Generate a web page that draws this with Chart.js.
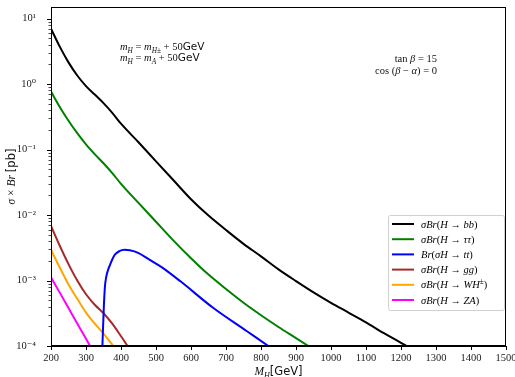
<!DOCTYPE html>
<html>
<head>
<meta charset="utf-8">
<script src="https://cdn.jsdelivr.net/npm/chart.js@4.4.1/dist/chart.umd.min.js"></script>
<style>
  html, body { margin: 0; padding: 0; background: #fff; }
  #wrap { width: 515px; height: 377px; }
</style>
</head>
<body>
<div id="wrap"><canvas id="chart"></canvas></div>
<script>
// M_H in GeV, sigma x Br in pb
const bbMass = [200, 225, 250, 275, 300, 325, 350, 375, 400, 450, 500, 550, 600, 650, 700, 750, 800, 850, 900, 950, 1000, 1050, 1100, 1150, 1200, 1240];
const bbXsec = [7.0, 3.72, 2.14, 1.35, 0.93, 0.69, 0.51, 0.363, 0.248, 0.129, 0.066, 0.0339, 0.0174, 0.0098, 0.0059, 0.00363, 0.00234, 0.00148, 0.00098, 0.00066, 0.000457, 0.000324, 0.000229, 0.000158, 0.000112, 0.000085];

const tauMass = [200, 225, 250, 275, 300, 325, 350, 375, 400, 450, 500, 550, 600, 650, 700, 750, 800, 850, 900, 950];
const tauXsec = [0.77, 0.447, 0.275, 0.178, 0.120, 0.085, 0.0617, 0.0437, 0.0299, 0.0153, 0.0079, 0.00407, 0.00219, 0.00123, 0.00074, 0.000457, 0.000295, 0.000195, 0.000132, 0.000089];

const ttMass = [345, 348, 351, 354, 358, 363, 369, 376, 383, 395, 410, 425, 449, 480, 516, 569, 664, 760, 821, 840];
const ttXsec = [0.00005, 0.00015, 0.0004, 0.0008, 0.00115, 0.00145, 0.00175, 0.00215, 0.0025, 0.0028, 0.00295, 0.0029, 0.00265, 0.0021, 0.0016, 0.00098, 0.00038, 0.000168, 0.0001, 0.000085];

const ggMass = [200, 225, 250, 275, 300, 325, 350, 375, 400, 425];
const ggXsec = [0.0068, 0.00339, 0.00178, 0.001, 0.000617, 0.000427, 0.000316, 0.000219, 0.000141, 0.000089];

const whMass = [200, 225, 250, 275, 300, 325, 350, 375, 390];
const whXsec = [0.00295, 0.00158, 0.00087, 0.000525, 0.000324, 0.000219, 0.000155, 0.000105, 0.000083];

const zaMass = [200, 225, 250, 275, 300, 320];
const zaXsec = [0.00112, 0.000653, 0.00038, 0.000221, 0.000129, 0.000083];

const seriesLabels = ['σBr(H → bb)', 'σBr(H → ττ)', 'Br(σH → tt)', 'σBr(H → gg)', 'σBr(H → WH^{±})', 'σBr(H → ZA)'];
const seriesColors = ['#000000', '#008000', '#0000ff', '#a52a2a', '#ffa500', '#ff00ff'];

const xMin = 200, xMax = 1500, xStep = 100;
const yMin = 1e-4, yMax = 15;

const SERIF = '"Liberation Serif", "DejaVu Serif", serif';
const SANS = '"DejaVu Sans", sans-serif';

function pts(xs, ys) { return xs.map((m, i) => ({ x: m, y: ys[i] })); }

const SUP = { '-': '⁻', '0': '⁰', '1': '¹', '2': '²', '3': '³', '4': '⁴', '5': '⁵', '6': '⁶', '7': '⁷', '8': '⁸', '9': '⁹' };
function isDecade(v) { const e = Math.round(Math.log10(v)); return Math.abs(Math.log10(v) - e) < 1e-6; }

// tiny math-ish text: _{..} sub, ^{..} sup, ~{..} upright, #{..} sans
function mathRuns(str) {
  const runs = [];
  let i = 0;
  while (i < str.length) {
    const c = str[i];
    if ('_^~#'.includes(c) && str[i + 1] === '{') {
      const end = str.indexOf('}', i + 2);
      for (const ch of str.slice(i + 2, end)) runs.push({ ch, mode: c });
      i = end + 1;
    } else {
      runs.push({ ch: c, mode: '' });
      i++;
    }
  }
  return runs;
}
function runFont(r, size) {
  const px = (r.mode === '_' || r.mode === '^') ? size * 0.7 : size;
  if (r.mode === '#') return `${px}px ${SANS}`;
  const letter = /[A-Za-z\u03b1-\u03c9]/.test(r.ch) && r.mode !== '~';
  return `${letter ? 'italic ' : ''}${px}px ${SERIF}`;
}
function drawMath(ctx, str, x, y, size, align) {
  const runs = mathRuns(str);
  let w = 0;
  for (const r of runs) { ctx.font = runFont(r, size); r.w = ctx.measureText(r.ch).width; w += r.w; }
  let cx = align === 'right' ? x - w : align === 'center' ? x - w / 2 : x;
  ctx.textAlign = 'left';
  ctx.textBaseline = 'alphabetic';
  for (const r of runs) {
    ctx.font = runFont(r, size);
    const dy = r.mode === '_' ? size * 0.25 : r.mode === '^' ? -size * 0.4 : 0;
    ctx.fillText(r.ch, cx, y + dy);
    cx += r.w;
  }
}

const decor = {
  id: 'decor',
  afterDatasetsDraw(chart) {
    const { ctx, chartArea: a, scales: { y } } = chart;
    ctx.save();
    ctx.strokeStyle = '#000';
    ctx.lineWidth = 1;
    ctx.strokeRect(Math.round(a.left) + 0.5, Math.round(a.top) + 0.5, Math.round(a.right - a.left) - 1, Math.round(a.bottom - a.top) - 1);

    // y ticks, major and minor
    y.ticks.forEach(t => {
      const py = Math.round(y.getPixelForValue(t.value)) + 0.5;
      const major = isDecade(t.value);
      ctx.lineWidth = major ? 1 : 0.7;
      ctx.beginPath();
      ctx.moveTo(a.left - (major ? 4 : 2.5), py);
      ctx.lineTo(a.left, py);
      ctx.stroke();
    });

    // legend
    const lx = 388, ly = 215, lw = 116, lh = 95;
    ctx.fillStyle = 'rgba(255,255,255,0.85)';
    ctx.strokeStyle = '#d0d0d0';
    ctx.lineWidth = 1;
    ctx.beginPath();
    ctx.roundRect(lx + 0.5, ly + 0.5, lw, lh, 2);
    ctx.fill();
    ctx.stroke();
    chart.data.datasets.forEach((ds, i) => {
      const cy = 224 + i * 15.2;
      ctx.strokeStyle = ds.borderColor;
      ctx.lineWidth = 2;
      ctx.beginPath();
      ctx.moveTo(392, cy);
      ctx.lineTo(414, cy);
      ctx.stroke();
      ctx.fillStyle = '#000';
      drawMath(ctx, ds.label, 421, cy + 3.5, 10.5, 'left');
    });

    // annotations
    ctx.fillStyle = '#111';
    drawMath(ctx, 'm_{H} = m_{H±} + 50#{GeV}', 120, 50, 10.5, 'left');
    drawMath(ctx, 'm_{H} = m_{A} + 50#{GeV}', 120, 61, 10.5, 'left');
    drawMath(ctx, '~{tan} β = 15', 437, 61.5, 10.5, 'right');
    drawMath(ctx, '~{cos} (β − α) = 0', 437, 73.5, 10.5, 'right');

    // axis titles
    drawMath(ctx, 'M_{H}#{[GeV]}', (a.left + a.right) / 2, 375, 11.5, 'center');
    ctx.translate(15, (a.top + a.bottom) / 2);
    ctx.rotate(-Math.PI / 2);
    drawMath(ctx, 'σ × Br #{[pb]}', 0, 0, 11.5, 'center');
    ctx.restore();
  }
};

const datasets = [
  [bbMass, bbXsec], [tauMass, tauXsec], [ttMass, ttXsec],
  [ggMass, ggXsec], [whMass, whXsec], [zaMass, zaXsec]
].map(([m, s], i) => ({
  label: seriesLabels[i],
  data: pts(m, s),
  borderColor: seriesColors[i],
  borderWidth: 2,
  pointRadius: 0,
  fill: false,
  cubicInterpolationMode: 'monotone'
}));

new Chart(document.getElementById('chart').getContext('2d'), {
  type: 'line',
  data: { datasets },
  options: {
    responsive: true,
    maintainAspectRatio: false,
    animation: false,
    devicePixelRatio: 1,
    layout: { padding: { top: 7, right: 9, left: 0, bottom: 0 } },
    plugins: { legend: { display: false }, tooltip: { enabled: false } },
    scales: {
      x: {
        type: 'linear', min: xMin, max: xMax,
        afterFit: s => { s.height = 31; s.paddingLeft = 0; s.paddingRight = 0; },
        ticks: { stepSize: xStep, color: '#222', padding: 2, font: { family: SERIF, size: 10.5 }, callback: v => String(v) },
        grid: { drawOnChartArea: false, drawTicks: true, tickLength: 4, color: '#000' },
        border: { display: true, color: '#000', width: 1 }
      },
      y: {
        type: 'logarithmic', min: yMin, max: yMax,
        afterFit: s => { s.width = 51; s.paddingTop = 0; s.paddingBottom = 0; },
        afterBuildTicks: s => {
          s.ticks = s.ticks.filter(t => {
            const e = Math.floor(Math.log10(t.value) + 1e-9);
            const m = t.value / Math.pow(10, e);
            return Math.abs(m - Math.round(m)) < 1e-6 && t.value <= yMax;
          });
        },
        ticks: {
          autoSkip: false, color: '#222', padding: 7,
          font: { family: SERIF, size: 10.5 },
          callback: v => isDecade(v) ? '10' + String(Math.round(Math.log10(v))).split('').map(c => SUP[c]).join('') : ''
        },
        grid: { display: false },
        border: { display: true, color: '#000', width: 1 }
      }
    }
  },
  plugins: [decor]
});
</script>
</body>
</html>
